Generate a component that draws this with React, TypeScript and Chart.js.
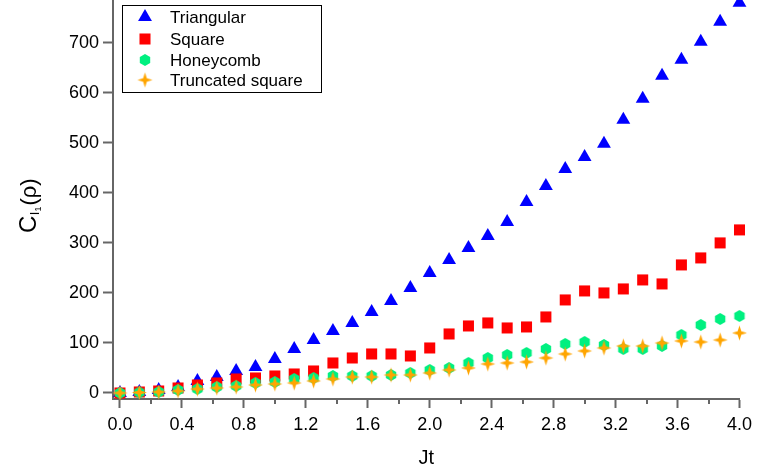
import React, { useEffect, useRef } from "react";
import { Chart, registerables } from "chart.js";
import { drawPoint } from "chart.js/helpers";

Chart.register(...registerables);

const jt = [0, 0.125, 0.25, 0.375, 0.5, 0.625, 0.75, 0.875, 1.0, 1.125, 1.25, 1.375, 1.5, 1.625, 1.75, 1.875, 2.0, 2.125, 2.25, 2.375, 2.5, 2.625, 2.75, 2.875, 3.0, 3.125, 3.25, 3.375, 3.5, 3.625, 3.75, 3.875, 4.0];

const triangular = [0, 2, 6, 12, 24, 32, 44, 52, 68, 88, 106, 124, 140, 162, 184, 210, 240, 266, 290, 314, 342, 382, 414, 448, 472, 498, 546, 588, 634, 666, 702, 742, 780];
const square = [0, 2, 4, 10, 16, 20, 28, 30, 34, 38, 44, 60, 70, 78, 78, 74, 90, 118, 134, 140, 130, 132, 152, 186, 204, 200, 208, 226, 218, 256, 270, 300, 326];
const honeycomb = [0, 1, 2, 6, 8, 12, 14, 20, 22, 28, 30, 34, 34, 34, 36, 40, 46, 50, 60, 70, 76, 80, 88, 98, 102, 96, 88, 88, 94, 116, 136, 148, 154];
const truncatedSquare = [0, 1, 2, 4, 8, 10, 12, 16, 18, 20, 24, 28, 32, 32, 36, 36, 40, 46, 50, 58, 60, 62, 70, 78, 84, 90, 94, 94, 100, 104, 102, 106, 120];

const seriesNames = ["Triangular", "Square", "Honeycomb", "Truncated square"];
const xTicks = [0, 0.4, 0.8, 1.2, 1.6, 2.0, 2.4, 2.8, 3.2, 3.6, 4.0];
const xMinorTicks = [0.2, 0.6, 1.0, 1.4, 1.8, 2.2, 2.6, 3.0, 3.4, 3.8];
const yTicks = [0, 100, 200, 300, 400, 500, 600, 700];

const BLUE = "#0000ff";
const RED = "#ff0000";
const GREEN = "rgb(0,240,128)";
const ORANGE = "#ffa500";
const AXIS = "#666666";
const FONT = "'Liberation Sans', Arial, sans-serif";
const OFF = 15; // canvas is shifted up by this much so the plot area reaches the top edge

function makeHexagon(color: string, r: number) {
  const c = document.createElement("canvas");
  const s = Math.ceil(r * 2 + 2);
  c.width = s;
  c.height = s;
  const ctx = c.getContext("2d")!;
  ctx.fillStyle = color;
  ctx.beginPath();
  for (let i = 0; i < 6; i++) {
    const a = -Math.PI / 2 + (i * Math.PI) / 3;
    const px = s / 2 + r * Math.cos(a);
    const py = s / 2 + r * Math.sin(a);
    if (i === 0) ctx.moveTo(px, py);
    else ctx.lineTo(px, py);
  }
  ctx.closePath();
  ctx.fill();
  return c;
}

function makeStar(color: string, ro: number, ri: number) {
  const c = document.createElement("canvas");
  const s = Math.ceil(ro * 2 + 2);
  c.width = s;
  c.height = s;
  const ctx = c.getContext("2d")!;
  ctx.fillStyle = color;
  ctx.beginPath();
  for (let i = 0; i < 8; i++) {
    const a = -Math.PI / 2 + (i * Math.PI) / 4;
    const rr = i % 2 === 0 ? ro : ri;
    const px = s / 2 + rr * Math.cos(a);
    const py = s / 2 + rr * Math.sin(a);
    if (i === 0) ctx.moveTo(px, py);
    else ctx.lineTo(px, py);
  }
  ctx.closePath();
  ctx.fill();
  return c;
}

export default function App() {
  const ref = useRef<HTMLCanvasElement>(null);

  useEffect(() => {
    const hex = makeHexagon(GREEN, 6);
    const star = makeStar(ORANGE, 7.5, 2.6);

    const styles: any[] = [
      { pointStyle: "triangle", radius: 8, color: BLUE },
      { pointStyle: "rect", radius: 7.8, color: RED },
      { pointStyle: hex, radius: 6, color: GREEN },
      { pointStyle: star, radius: 7, color: ORANGE },
    ];
    const values = [triangular, square, honeycomb, truncatedSquare];

    const datasets = values.map((vals, i) => ({
      label: seriesNames[i],
      data: jt.map((x, k) => ({ x, y: vals[k] })),
      showLine: false,
      pointStyle: styles[i].pointStyle,
      pointRadius: styles[i].radius,
      pointBackgroundColor: styles[i].color,
      pointBorderWidth: 0,
      pointBorderColor: styles[i].color,
      order: 4 - i,
      clip: false as any,
    }));

    const extras = {
      id: "extras",
      afterDraw(chart: any) {
        const ctx = chart.ctx as CanvasRenderingContext2D;
        const xs = chart.scales.x;
        const bottom = chart.chartArea.bottom;
        // minor ticks
        ctx.save();
        ctx.strokeStyle = AXIS;
        ctx.lineWidth = 2;
        for (const v of xMinorTicks) {
          const px = Math.round(xs.getPixelForValue(v));
          ctx.beginPath();
          ctx.moveTo(px, bottom);
          ctx.lineTo(px, bottom + 5);
          ctx.stroke();
        }
        ctx.restore();

        // y title with subscripts
        ctx.save();
        ctx.translate(36, 233 + OFF);
        ctx.rotate(-Math.PI / 2);
        ctx.fillStyle = "#000";
        ctx.textBaseline = "alphabetic";
        ctx.textAlign = "left";
        let cx = 0;
        ctx.font = `24px ${FONT}`;
        ctx.fillText("C", cx, 0);
        cx += ctx.measureText("C").width;
        ctx.font = `13px ${FONT}`;
        ctx.fillText("I", cx + 0.5, 3);
        cx += ctx.measureText("I").width + 0.5;
        ctx.font = `9px ${FONT}`;
        ctx.fillText("1", cx, 5);
        cx += ctx.measureText("1").width + 1;
        ctx.font = `22px ${FONT}`;
        ctx.fillText("(ρ)", cx, 0);
        ctx.restore();

        // legend box
        ctx.save();
        ctx.strokeStyle = "#000";
        ctx.lineWidth = 1;
        ctx.strokeRect(122.5, 5.5 + OFF, 199, 87);
        const rows = [17, 39, 60, 80];
        for (let i = 0; i < 4; i++) {
          ctx.fillStyle = styles[i].color;
          ctx.strokeStyle = styles[i].color;
          drawPoint(ctx, { pointStyle: styles[i].pointStyle, radius: styles[i].radius, rotation: 0, borderWidth: 0 } as any, 145, rows[i] + OFF);
          ctx.fillStyle = "#000";
          ctx.font = `17px ${FONT}`;
          ctx.textBaseline = "middle";
          ctx.textAlign = "left";
          ctx.fillText(seriesNames[i], 170, rows[i] + 1 + OFF);
        }
        ctx.restore();
      },
    };

    const chart = new Chart(ref.current!, {
      type: "scatter",
      data: { datasets: datasets as any },
      plugins: [extras],
      options: {
        animation: false,
        responsive: false,
        devicePixelRatio: 1,
        events: [],
        layout: { padding: { top: 0, right: 18, left: 0, bottom: 0 } },
        plugins: { legend: { display: false }, tooltip: { enabled: false } },
        scales: {
          x: {
            type: "linear",
            min: -0.045,
            max: 4.0,
            afterBuildTicks: (s: any) => {
              s.ticks = xTicks.map((v) => ({ value: v }));
            },
            afterFit: (s: any) => {
              s.height = 71;
            },
            grid: { drawOnChartArea: false, drawTicks: true, tickLength: 9, tickWidth: 2, color: AXIS },
            border: { display: true, color: AXIS, width: 2 },
            ticks: {
              color: "#000",
              font: { family: FONT, size: 18 },
              padding: 6,
              maxRotation: 0,
              autoSkip: false,
              callback: (v: any) => Number(v).toFixed(1),
            },
            title: {
              display: true,
              text: "Jt",
              color: "#000",
              font: { family: FONT, size: 20 },
              padding: { top: 4, bottom: 0 },
            },
          },
          y: {
            type: "linear",
            min: -12,
            max: 786,
            afterBuildTicks: (s: any) => {
              s.ticks = yTicks.map((v) => ({ value: v }));
            },
            afterFit: (s: any) => {
              s.width = 113;
            },
            grid: { drawOnChartArea: false, drawTicks: true, tickLength: 10, tickWidth: 2, color: AXIS },
            border: { display: true, color: AXIS, width: 2 },
            ticks: {
              color: "#000",
              font: { family: FONT, size: 18 },
              padding: 4,
              autoSkip: false,
            },
          },
        },
      },
    });
    return () => chart.destroy();
  }, []);

  return (
    <div style={{ position: "fixed", left: 0, top: 0, width: 758, height: 470, background: "#fff", overflow: "hidden" }}>
      <canvas
        ref={ref}
        width={758}
        height={470 + OFF}
        style={{ display: "block", position: "absolute", left: 0, top: -OFF, width: 758, height: 470 + OFF }}
      />
    </div>
  );
}
